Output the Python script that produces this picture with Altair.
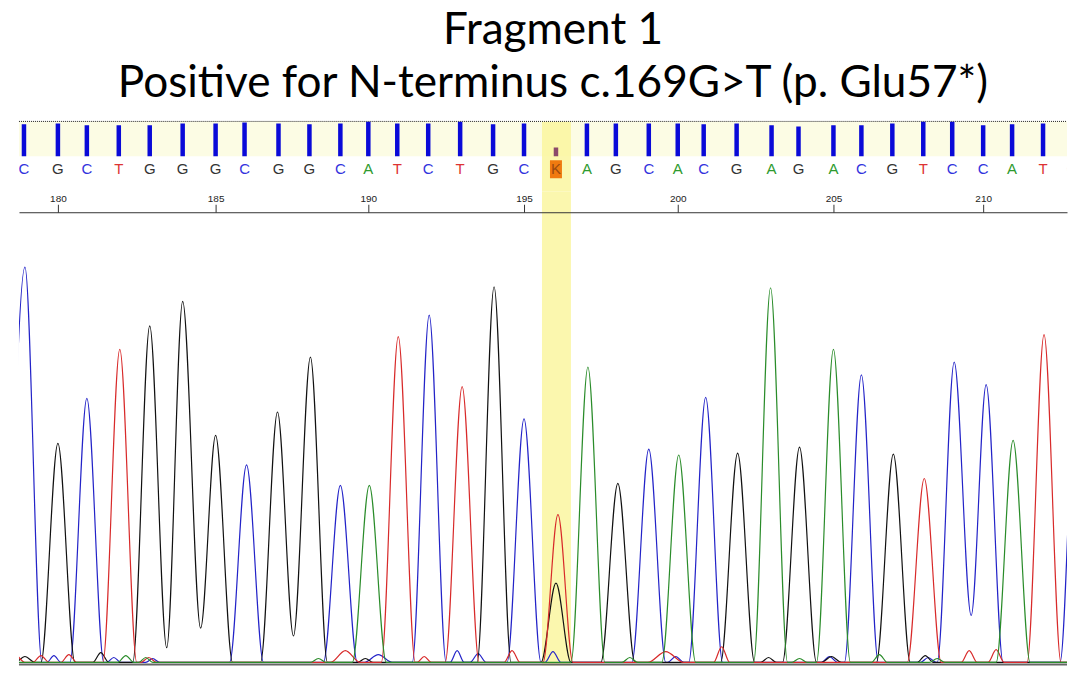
import altair as alt
import pandas as pd

# ---------------- data ----------------
bases = list("CGCTGGGCGGCATCTGCKAGCACGAGACGTCCATC")
base_numbers = list(range(179, 214))
base_scans = [23, 57, 86, 118, 149, 182, 215, 244, 278, 309, 340, 368, 397, 428, 460,
              493, 524, 556, 587, 616, 649, 678, 704, 737, 772, 799, 834, 862, 893, 924,
              953, 984, 1013, 1044, 1073]
quality = [58, 59, 56, 56, 56, 59, 59, 61, 59, 58, 59, 63, 59, 59, 63, 58, 59, 16, 59, 59,
           59, 59, 58, 59, 56, 54, 56, 56, 59, 63, 63, 56, 58, 59, 61]
tick_bases = [180, 185, 190, 195, 200, 205, 210]
highlight_start = 542
highlight_end = 571

# trace vertices (scan, signal) per dye channel
A_scan = [0, 117, 125, 133, 138, 145, 152, 310, 318, 326, 352, 369, 386, 571, 588, 605, 622, 630, 638,
          662, 679, 696, 754, 771, 788, 792, 800, 808, 817, 834, 851, 872, 880, 888, 930, 938, 946,
          997, 1014, 1031, 1090]
A_sig = [0, 0, 7, 0, 0, 5, 0, 0, 4, 0, 0, 181, 0, 0, 302, 0, 0, 5, 0,
         0, 212, 0, 0, 383, 0, 0, 4, 0, 0, 320, 0, 0, 8, 0, 0, 4, 0,
         0, 227, 0, 0]

C_scan = [7, 24, 41, 46, 53, 60, 69, 86, 103, 106, 113, 120, 145, 152, 159, 229, 246, 263,
          323, 340, 357, 364, 378, 392, 412, 429, 446, 450, 457, 464, 470, 478, 486, 507, 524, 541,
          545, 553, 561, 632, 649, 666, 668, 676, 684, 689, 706, 723, 822, 830, 838, 845, 862, 879,
          921, 929, 937, 938, 955, 972, 987, 1004, 1061, 1078, 1095]
C_sig = [0, 404, 0, 0, 7, 0, 0, 270, 0, 0, 5, 0, 0, 4, 0, 0, 202, 0,
         0, 181, 0, 0, 8, 0, 0, 355, 0, 0, 12, 0, 0, 9, 0, 0, 249, 0,
         0, 11, 0, 0, 218, 0, 0, 6, 0, 0, 271, 0, 0, 6, 0, 0, 294, 0,
         0, 5, 0, 0, 307, 48, 284, 0, 0, 310, 0]

G_scan = [0, 14, 24, 34, 40, 57, 74, 92, 100, 108, 132, 149, 166, 182, 200, 215, 232,
          260, 277, 293, 310, 327, 357, 365, 373, 477, 494, 511, 541, 556, 571, 601, 618, 635,
          721, 738, 755, 761, 769, 777, 783, 800, 817, 822, 832, 842, 877, 894, 911,
          918, 926, 934, 1090]
G_sig = [0, 0, 6, 0, 0, 224, 0, 0, 10, 0, 0, 344, 15, 369, 35, 232, 0,
         0, 256, 27, 312, 0, 0, 4, 0, 0, 384, 0, 0, 81, 0, 0, 183, 0,
         0, 214, 0, 0, 5, 0, 0, 220, 0, 0, 6, 0, 0, 213, 0,
         0, 7, 0, 0]

T_scan = [0, 12, 24, 32, 40, 48, 60, 68, 76, 102, 119, 136, 140, 148, 156, 330, 345, 360,
          381, 398, 415, 417, 424, 431, 445, 462, 479, 504, 512, 520, 543, 558, 573,
          648, 666, 684, 714, 722, 730, 908, 925, 942, 962, 970, 978, 989, 997, 1005,
          1028, 1045, 1062, 1090]
T_sig = [0, 10, 0, 0, 7, 0, 0, 8, 0, 0, 320, 0, 0, 5, 0, 0, 12, 0,
         0, 333, 0, 0, 6, 0, 0, 282, 0, 0, 12, 0, 0, 151, 0,
         0, 11, 0, 0, 16, 0, 0, 188, 0, 0, 12, 0, 0, 13, 0,
         0, 335, 0, 0]

# ---------------- tables ----------------
base_df = pd.DataFrame({"base": bases, "number": base_numbers, "scan": base_scans, "qv": quality})
base_df["kind"] = ["ambiguous" if b == "K" else "call" for b in bases]
amb_df = base_df[base_df["base"] == "K"]
hl_df = pd.DataFrame({"start": [highlight_start], "end": [highlight_end]})
one_df = pd.DataFrame({"k": [0]})

frames = []
for ch, xs, ys in [("C", C_scan, C_sig), ("G", G_scan, G_sig), ("T", T_scan, T_sig), ("A", A_scan, A_sig)]:
    frames.append(pd.DataFrame({"scan": xs, "signal": ys, "channel": ch}))
trace_df = pd.concat(frames, ignore_index=True)

tick_scans = [base_scans[base_numbers.index(b)] for b in tick_bases]
label_expr = "[" + ",".join("'%d'" % b for b in tick_bases) + "][indexof([" + \
    ",".join(str(s) for s in tick_scans) + "], datum.value)]"

# ---------------- layout / style ----------------
W = 1050
HH = 70
TH = 454
BAND = 35
x_scale = alt.Scale(domain=[18, 1068], nice=False, zero=False)
HL_COLOR = "#faf59a"

top_axis = alt.Axis(orient="top", values=tick_scans, labelExpr=label_expr, tickSize=8,
                    tickColor="#333333", domainColor="#333333", domainWidth=1, tickWidth=1,
                    labelFontSize=10, labelFont="Liberation Sans", labelColor="#222222",
                    labelPadding=1, grid=False, title=None, zindex=1, labelFlush=False)

# ---------------- header panel ----------------
band = alt.Chart(one_df).mark_rect(color="#fcfce4").encode(
    x=alt.value(0), x2=alt.value(W), y=alt.value(0), y2=alt.value(BAND))
hl_head = alt.Chart(hl_df).mark_rect(color=HL_COLOR, opacity=0.8, clip=True).encode(
    x=alt.X("start:Q", scale=x_scale, axis=None), x2="end:Q",
    y=alt.value(0), y2=alt.value(HH))
dotted = alt.Chart(one_df).mark_rule(color="#222222", strokeDash=[1, 1], strokeWidth=1).encode(
    x=alt.value(0), x2=alt.value(W), y=alt.value(0))
qbars = alt.Chart(base_df).mark_rule(strokeWidth=4.5, strokeCap="butt", clip=True).encode(
    x=alt.X("scan:Q", scale=x_scale, axis=None),
    y=alt.Y("qv:Q", scale=alt.Scale(domain=[0, 63], range=[BAND, 0]), axis=None),
    y2=alt.value(BAND),
    color=alt.Color("kind:N", scale=alt.Scale(domain=["call", "ambiguous"],
                                              range=["#0a0ad8", "#8b4a6a"]), legend=None))
kbox = alt.Chart(amb_df).mark_rect(width=12, height=18, color="#f07a10", clip=True).encode(
    x=alt.X("scan:Q", scale=x_scale, axis=None), y=alt.value(48))
letters = alt.Chart(base_df).mark_text(fontSize=15, font="Liberation Sans", clip=True).encode(
    x=alt.X("scan:Q", scale=x_scale, axis=None), y=alt.value(48), text="base:N",
    color=alt.Color("base:N", scale=alt.Scale(domain=["A", "C", "G", "T", "K"],
                                              range=["#2e9a2e", "#3333dd", "#333333", "#dd3333", "#9a4a10"]),
                    legend=None))
header = alt.layer(band, hl_head, dotted, qbars, kbox, letters).resolve_scale(
    color="independent").properties(width=W, height=HH)

# ---------------- trace panel ----------------
hl_trace = alt.Chart(hl_df).mark_rect(color=HL_COLOR, opacity=0.8).encode(
    x=alt.X("start:Q", scale=x_scale, axis=top_axis), x2="end:Q",
    y=alt.value(-21), y2=alt.value(TH))
lines = alt.Chart(trace_df).mark_line(interpolate="monotone", strokeWidth=1.2, clip=True).encode(
    x=alt.X("scan:Q", scale=x_scale, axis=top_axis),
    y=alt.Y("signal:Q", scale=alt.Scale(domain=[-3.06, 460.2], nice=False, zero=False), axis=None),
    color=alt.Color("channel:N", scale=alt.Scale(domain=["A", "C", "G", "T"],
                                                 range=["#2a8c2a", "#2323c8", "#111111", "#d82a2a"]),
                    legend=None))
bottom = alt.Chart(one_df).mark_rule(color="#666666", strokeWidth=2).encode(
    x=alt.value(0), x2=alt.value(W), y=alt.value(TH - 1))
traces = alt.layer(hl_trace, lines, bottom).properties(width=W, height=TH)

chart = alt.vconcat(header, traces, spacing=0).properties(
    title=alt.TitleParams(text=["Fragment 1", "Positive for N-terminus c.169G>T (p. Glu57*)"],
                          fontSize=44.2, font="Lato", fontWeight="normal", color="#000000",
                          lineHeight=53, anchor="middle", dx=10, dy=-4, offset=11),
    padding={"left": 10, "top": 0, "right": 0, "bottom": 0},
    background="white",
).configure_view(strokeWidth=0)

chart.save("out.html", embed_options={"renderer": "svg", "actions": False})
